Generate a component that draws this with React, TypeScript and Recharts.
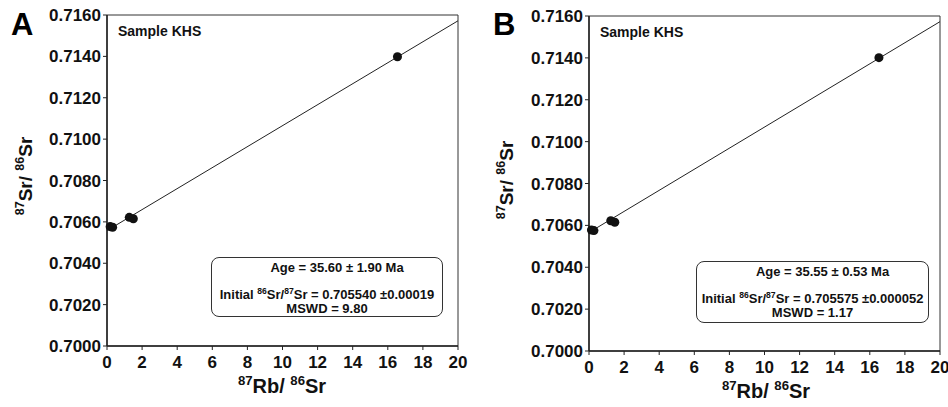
import React from "react";
import {
  ScatterChart,
  Scatter,
  XAxis,
  YAxis,
  ReferenceLine,
  ReferenceArea,
} from "recharts";

// 87Rb/86Sr vs 87Sr/86Sr, sample KHS
const pointsA = [
  { x: 0.18, y: 0.70577 },
  { x: 0.32, y: 0.70574 },
  { x: 1.27, y: 0.70622 },
  { x: 1.5, y: 0.70615 },
  { x: 16.55, y: 0.71398 },
];
const pointsB = [
  { x: 0.14, y: 0.70578 },
  { x: 0.28, y: 0.70575 },
  { x: 1.24, y: 0.70622 },
  { x: 1.47, y: 0.70615 },
  { x: 16.52, y: 0.71401 },
];
// isochron fit end points
const fitA = [
  { x: 0, y: 0.70558 },
  { x: 20, y: 0.71572 },
];
const fitB = [
  { x: 0, y: 0.70566 },
  { x: 20, y: 0.71573 },
];

const xTicks = [0, 2, 4, 6, 8, 10, 12, 14, 16, 18, 20];
const yTicks = [0.7, 0.702, 0.704, 0.706, 0.708, 0.71, 0.712, 0.714, 0.716];

const FONT = "'Liberation Sans', Arial, sans-serif";

type PanelProps = {
  left: number;
  letter: string;
  points: { x: number; y: number }[];
  fit: { x: number; y: number }[];
  margin: { top: number; right: number; bottom: number; left: number };
  yWidth: number;
  age: string;
  initial: string;
  mswd: string;
  box: { x: number; y: number; w: number; h: number };
  yLabel: { x: number; y: number };
  xLabel: { x: number; y: number };
  letterPos: { x: number; y: number };
  samplePos: { x: number; y: number };
};

function Sup({ children }: { children: React.ReactNode }) {
  return <span style={{ fontSize: "0.66em", verticalAlign: "0.6em", lineHeight: 0 }}>{children}</span>;
}

function Panel(p: PanelProps) {
  const tickStyle = { fill: "#111", fontSize: 17, fontWeight: 700, fontFamily: FONT };
  return (
    <div style={{ position: "absolute", left: p.left, top: 0, width: 470, height: 407 }}>
      <ScatterChart width={470} height={407} margin={p.margin}>
        <XAxis
          type="number"
          dataKey="x"
          domain={[0, 20]}
          ticks={xTicks}
          interval={0}
          height={30}
          tickSize={4}
          tickMargin={6}
          axisLine={{ stroke: "#222", strokeWidth: 1.5 }}
          tickLine={{ stroke: "#222" }}
          tick={tickStyle}
        />
        <YAxis
          type="number"
          dataKey="y"
          domain={[0.7, 0.716]}
          ticks={yTicks}
          interval={0}
          width={p.yWidth}
          tickSize={4}
          tickMargin={2}
          tickFormatter={(v: number) => v.toFixed(4)}
          axisLine={{ stroke: "#222", strokeWidth: 1.5 }}
          tickLine={{ stroke: "#222" }}
          tick={tickStyle}
        />
        <ReferenceArea
          x1={0}
          x2={20}
          y1={0.7}
          y2={0.716}
          fill="none"
          stroke="#333"
          strokeWidth={1}
          fillOpacity={0}
        />
        <ReferenceLine
          segment={[p.fit[0], p.fit[1]]}
          stroke="#222"
          strokeWidth={1}
        />
        <Scatter data={p.points} fill="#111" isAnimationActive={false} />
      </ScatterChart>

      <div
        style={{
          position: "absolute",
          left: p.letterPos.x,
          top: p.letterPos.y,
          fontFamily: FONT,
          fontWeight: 700,
          fontSize: 31,
          lineHeight: 1,
          color: "#000",
        }}
      >
        {p.letter}
      </div>
      <div
        style={{
          position: "absolute",
          left: p.samplePos.x,
          top: p.samplePos.y,
          fontFamily: FONT,
          fontWeight: 700,
          fontSize: 14,
          lineHeight: 1,
          color: "#111",
        }}
      >
        Sample KHS
      </div>

      {/* y axis title */}
      <div
        style={{
          position: "absolute",
          left: p.yLabel.x,
          top: p.yLabel.y,
          transform: "translate(-50%, -50%) rotate(-90deg)",
          fontFamily: FONT,
          fontWeight: 700,
          fontSize: 19,
          lineHeight: 1,
          whiteSpace: "nowrap",
          color: "#111",
        }}
      >
        <Sup>87</Sup>Sr/ <Sup>86</Sup>Sr
      </div>

      {/* x axis title */}
      <div
        style={{
          position: "absolute",
          left: p.xLabel.x,
          top: p.xLabel.y,
          transform: "translateX(-50%)",
          fontFamily: FONT,
          fontWeight: 700,
          fontSize: 20,
          lineHeight: 1,
          whiteSpace: "nowrap",
          color: "#111",
        }}
      >
        <Sup>87</Sup>Rb/ <Sup>86</Sup>Sr
      </div>

      {/* result box */}
      <div
        style={{
          position: "absolute",
          left: p.box.x,
          top: p.box.y,
          width: p.box.w,
          height: p.box.h,
          boxSizing: "border-box",
          border: "1px solid #333",
          borderRadius: 8,
          background: "#fff",
          fontFamily: FONT,
          fontWeight: 700,
          fontSize: 13,
          color: "#111",
          textAlign: "center",
          whiteSpace: "nowrap",
        }}
      >
        <div style={{ marginTop: 2, paddingLeft: 20, lineHeight: "15px" }}>{p.age}</div>
        <div style={{ marginTop: 12, lineHeight: "15px" }}>
          Initial <Sup>86</Sup>Sr/<Sup>87</Sup>Sr = {p.initial}
        </div>
        <div style={{ lineHeight: "14px" }}>{p.mswd}</div>
      </div>
    </div>
  );
}

export default function App() {
  return (
    <div
      style={{
        position: "absolute",
        left: 0,
        top: 0,
        width: 948,
        height: 407,
        background: "#fff",
      }}
    >
      <Panel
        left={0}
        letter="A"
        points={pointsA}
        fit={fitA}
        margin={{ top: 15, right: 12, bottom: 31, left: 0 }}
        yWidth={107}
        age="Age = 35.60 ± 1.90 Ma"
        initial="0.705540 ±0.00019"
        mswd="MSWD = 9.80"
        box={{ x: 211, y: 257, w: 232, h: 60 }}
        yLabel={{ x: 25, y: 176 }}
        xLabel={{ x: 282, y: 376 }}
        letterPos={{ x: 11, y: 9 }}
        samplePos={{ x: 118, y: 24 }}
      />
      <Panel
        left={478}
        letter="B"
        points={pointsB}
        fit={fitB}
        margin={{ top: 16, right: 8, bottom: 26, left: 0 }}
        yWidth={111}
        age="Age = 35.55 ± 0.53 Ma"
        initial="0.705575 ±0.000052"
        mswd="MSWD = 1.17"
        box={{ x: 218, y: 261, w: 233, h: 62 }}
        yLabel={{ x: 28, y: 180 }}
        xLabel={{ x: 288, y: 381 }}
        letterPos={{ x: 15, y: 9 }}
        samplePos={{ x: 122, y: 25 }}
      />
    </div>
  );
}
